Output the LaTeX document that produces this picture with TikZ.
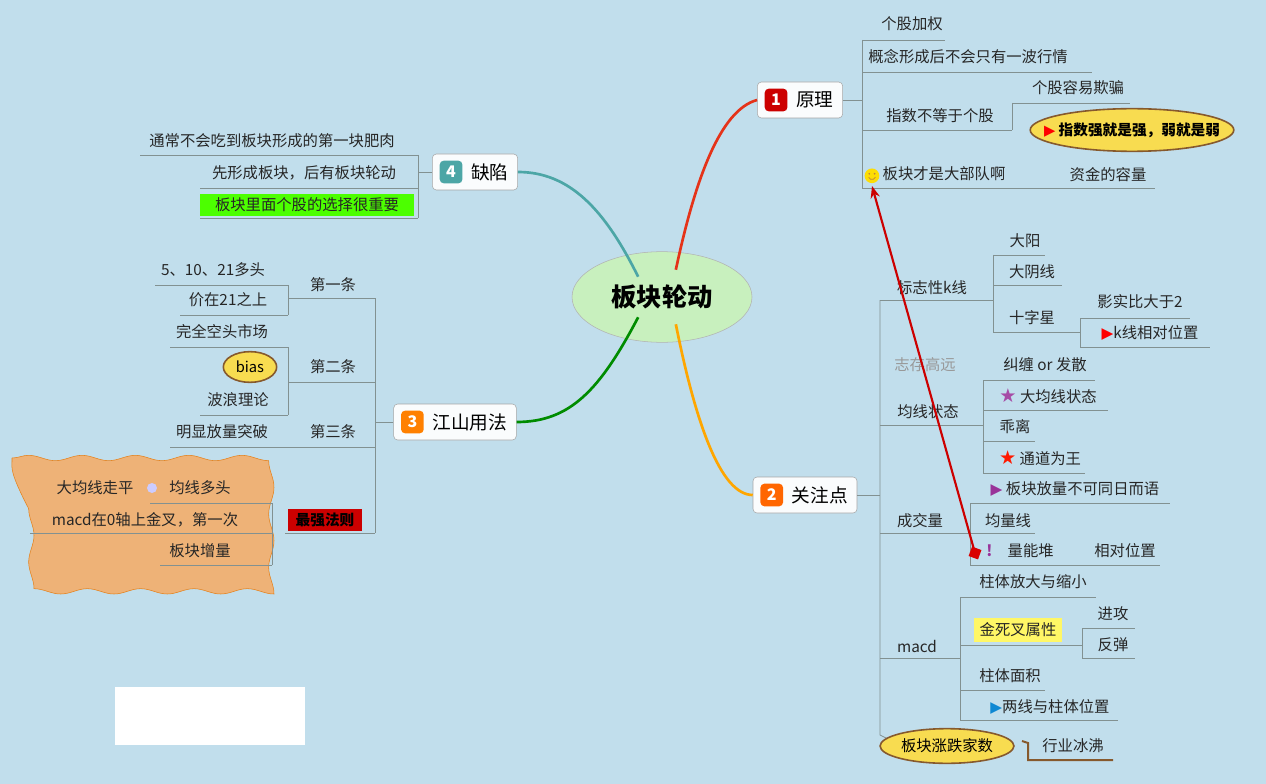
\documentclass[tikz,border=0pt]{standalone}
\usepackage{fontspec}
\setmainfont{Noto Sans CJK SC}
\newfontfamily\sym{DejaVu Sans}
\usetikzlibrary{shapes.geometric,decorations.pathmorphing,arrows.meta,calc}
\definecolor{bg}{RGB}{193,222,236}
\definecolor{ln}{RGB}{130,145,145}
\definecolor{ell}{RGB}{248,220,80}
\definecolor{cen}{RGB}{200,240,190}
\tikzset{
 txt/.style={inner sep=1pt,font=\fontsize{11.5}{13}\selectfont,text=black!85},
 ul/.style={draw=ln,line width=0.6pt},
 br/.style={draw=ln,line width=0.6pt},
 mainbox/.style={draw=gray!70,rounded corners=3pt,fill=white!92!bg,minimum height=27pt,inner xsep=7pt,inner ysep=4pt,font=\fontsize{14}{16}\selectfont},
 badge/.style={rounded corners=3pt,minimum size=17pt,inner sep=0pt,text=white,font=\bfseries\fontsize{12}{12}\selectfont},
 yell/.style={ellipse,draw=brown!70!black,line width=1.2pt,fill=ell,inner sep=1pt,font=\bfseries\fontsize{11.5}{13}\selectfont},
}
\newcommand{\smiley}{\tikz[baseline=-3pt]{\fill[yellow!80!orange] (0,0) circle (5.5pt);\draw[brown,line width=0.5pt] (-2.5pt,-1pt) arc (200:340:2.7pt);\fill[brown] (-2pt,1.5pt) circle (0.7pt) (2pt,1.5pt) circle (0.7pt);}}
\begin{document}
\begin{tikzpicture}[x=0.75pt,y=-0.75pt]
\fill[bg] (0,0) rectangle (1266,784);
\useasboundingbox (0,0) rectangle (1266,784);
% white rect
\fill[white] (115,687) rectangle (305,745);
% central
\node[ellipse,draw=gray!60,fill=cen,minimum width=135pt,minimum height=68pt,font=\bfseries\fontsize{19}{21}\selectfont] (c) at (662,297) {板块轮动};
% branches
\node[mainbox] (b1) at (800,100) {\hspace*{22pt}原理};
\node[badge,fill=red!80!black] at ($(b1.west)+(19,0)$) {1};
\node[mainbox] (b4) at (475,172) {\hspace*{22pt}缺陷};
\node[badge,fill=teal!70] at ($(b4.west)+(19,0)$) {4};
\node[mainbox] (b3) at (455,422) {\hspace*{22pt}江山用法};
\node[badge,fill=orange] at ($(b3.west)+(19,0)$) {3};
\node[mainbox] (b2) at (805,495) {\hspace*{22pt}关注点};
\node[badge,fill=orange!80!red] at ($(b2.west)+(19,0)$) {2};
\draw[red!60!brown,line width=2pt] (c.north east) ++(-50,5) .. controls (695,180) and (720,110) .. (b1.west);
\draw[teal!70,line width=2pt] (c.north west) ++(40,12) .. controls (605,210) and (570,172) .. (b4.east);
\draw[green!55!black,line width=2pt] (c.south west) ++(40,-12) .. controls (600,390) and (570,422) .. (b3.east);
\draw[orange!70!yellow,line width=2pt] (c.south east) ++(-50,-5) .. controls (695,420) and (720,495) .. (b2.west);

% ===== branch 1 =====
\draw[br] (b1.east) -- (862,100);
\draw[br] (862,40) -- (862,188);
\node[txt] (a1) at (912,24) {个股加权}; \draw[ul] (862,40) -- (945,40);
\node[txt] (a2) at (968,57) {概念形成后不会只有一波行情}; \draw[ul] (862,72) -- (1092,72);
\node[txt] (a3) at (940,116) {指数不等于个股}; \draw[ul] (862,130) -- (1012,130);
\draw[br] (1012,103) -- (1012,130);
\node[txt] (a31) at (1078,88) {个股容易欺骗}; \draw[ul] (1012,103) -- (1130,103);
\node[yell,minimum height=32pt,inner xsep=-12pt,inner ysep=0pt,font=\bfseries\fontsize{11}{13}\selectfont] (a32) at (1132,130) {\textcolor{red}{\sym ▶} 指数强就是强，弱就是弱};
\node[txt] (a4) at (935,175) {\smiley\ 板块才是大部队啊}; \draw[ul] (862,188) -- (1155,188);
\node[txt] (a5) at (1108,175) {资金的容量};

% ===== branch 2 =====
\draw[br] (b2.east) -- (880,495);
\draw[br] (880,300) -- (880,735) -- (890,740);
\node[txt] (k) at (932,288) {标志性k线}; \draw[ul] (880,300) -- (993,300);
\draw[br] (993,255) -- (993,332);
\node[txt] at (1025,241) {大阳}; \draw[ul] (993,255) -- (1045,255);
\node[txt] at (1032,272) {大阴线}; \draw[ul] (993,285) -- (1062,285);
\node[txt] at (1032,318) {十字星}; \draw[ul] (993,332) -- (1080,332);
\draw[br] (1080,318) -- (1080,347);
\node[txt] at (1140,302) {影实比大于2}; \draw[ul] (1080,318) -- (1190,318);
\node[txt] at (1150,333) {\textcolor{red}{\sym ▶}k线相对位置}; \draw[ul] (1080,347) -- (1210,347);
\node[txt,text=gray!80] at (925,365) {志存高远};
\node[txt] (j) at (928,412) {均线状态}; \draw[ul] (880,425) -- (983,425);
\draw[br] (983,380) -- (983,473);
\node[txt] at (1045,365) {纠缠 or 发散}; \draw[ul] (983,380) -- (1095,380);
\node[txt] at (1048,396) {\textcolor{violet!70}{\sym\Large ★} 大均线状态}; \draw[ul] (983,410) -- (1108,410);
\node[txt] at (1015,427) {乖离}; \draw[ul] (983,441) -- (1035,441);
\node[txt] at (1040,458) {\textcolor{red!80!orange}{\sym\Large ★} 通道为王}; \draw[ul] (983,473) -- (1085,473);
\node[txt] at (1075,489) {\textcolor{violet!80}{\sym ▶} 板块放量不可同日而语}; \draw[ul] (970,503) -- (1170,503);
\node[txt] (v) at (920,521) {成交量}; \draw[ul] (880,533) -- (970,533);
\draw[br] (970,503) -- (970,565);
\node[txt] at (1008,521) {均量线}; \draw[ul] (970,533) -- (1035,533);
\node[txt] at (1020,551) {\textcolor{violet!80}{\bfseries !}\quad 量能堆}; \draw[ul] (970,565) -- (1160,565);
\node[txt] at (1125,551) {相对位置};
\node[txt] at (1033,582) {柱体放大与缩小}; \draw[ul] (960,597) -- (1096,597);
\node[txt] (m) at (917,646) {macd}; \draw[ul] (880,658) -- (960,658);
\draw[br] (960,597) -- (960,720);
\node[txt,fill=yellow!60,inner sep=4pt] at (1018,630) {金死叉属性}; \draw[ul] (960,645) -- (1082,645);
\draw[br] (1082,628) -- (1082,658);
\node[txt] at (1113,614) {进攻}; \draw[ul] (1082,628) -- (1135,628);
\node[txt] at (1113,645) {反弹}; \draw[ul] (1082,658) -- (1135,658);
\node[txt] at (1010,676) {柱体面积}; \draw[ul] (960,690) -- (1045,690);
\node[txt] at (1050,707) {\textcolor{cyan!70!blue}{\sym ▶}两线与柱体位置}; \draw[ul] (960,720) -- (1118,720);
\node[yell,minimum width=86pt,minimum height=26pt,font=\fontsize{11.5}{13}\selectfont] (z) at (947,746) {板块涨跌家数};
\node[txt] (hy) at (1073,746) {行业冰沸};
\draw[brown!70!black,line width=1.5pt] (1022,741) -- (1028,743) -- (1028,760) -- (1113,760);

% red arrow
\coordinate (ra) at (975,553); \coordinate (rb) at (872,186);
\draw[red!80!black,line width=1.6pt,-{Stealth[length=9pt,width=7pt]}] (ra) -- (rb);
\fill[red!85!black,rotate around={-20:(ra)}] ($(ra)+(-5,-5)$) rectangle ($(ra)+(5,5)$);

% ===== branch 4 =====
\draw[br] (b4.west) -- (418,172);
\draw[br] (418,155) -- (418,218);
\node[txt] at (272,141) {通常不会吃到板块形成的第一块肥肉}; \draw[ul] (140,155) -- (418,155);
\node[txt] at (304,173) {先形成板块，后有板块轮动}; \draw[ul] (200,188) -- (418,188);
\node[txt,fill=green!60!lime,minimum width=160pt,minimum height=17pt] at (307,205) {板块里面个股的选择很重要}; \draw[ul] (200,218) -- (418,218);

% ===== branch 3 =====
\draw[br] (b3.west) -- (375,422);
\draw[br] (375,298) -- (375,533);
\node[txt] at (333,285) {第一条}; \draw[ul] (288,298) -- (375,298);
\draw[br] (288,285) -- (288,315);
\node[txt] at (213,270) {5、10、21多头}; \draw[ul] (155,285) -- (288,285);
\node[txt] at (228,300) {价在21之上}; \draw[ul] (180,315) -- (288,315);
\node[txt] at (333,367) {第二条}; \draw[ul] (288,382) -- (375,382);
\draw[br] (288,347) -- (288,415);
\node[txt] at (222,332) {完全空头市场}; \draw[ul] (170,347) -- (288,347);
\node[yell,minimum width=40pt,minimum height=23pt,font=\fontsize{11}{12}\selectfont] at (250,367) {bias};
\node[txt] at (238,400) {波浪理论}; \draw[ul] (200,415) -- (288,415);
\node[txt] at (333,432) {第三条}; \node[txt] at (222,432) {明显放量突破}; \draw[ul] (170,447) -- (375,447);
% orange shape
\fill[orange!55!brown!60!white,draw=orange!60!brown,decorate,decoration={snake,amplitude=2pt,segment length=40pt}] (12,458) -- (255,458) -- (255,580) -- (12,580) -- cycle;
\node[txt,fill=red!80!black,text=black,font=\bfseries\fontsize{11}{12}\selectfont,minimum width=56pt,minimum height=17pt] (q) at (325,520) {最强法则};
\draw[ul] (285,533) -- (375,533);
\draw[br] (272,503) -- (272,565);
\node[txt] at (95,488) {大均线走平};
\fill[white!80!blue] (152,488) circle (5);
\node[txt] at (200,488) {均线多头}; \draw[ul] (150,503) -- (272,503);
\node[txt] at (145,520) {macd在0轴上金叉，第一次}; \draw[ul] (30,533) -- (272,533);
\node[txt] at (200,551) {板块增量}; \draw[ul] (160,565) -- (272,565);
\end{tikzpicture}
\end{document}
